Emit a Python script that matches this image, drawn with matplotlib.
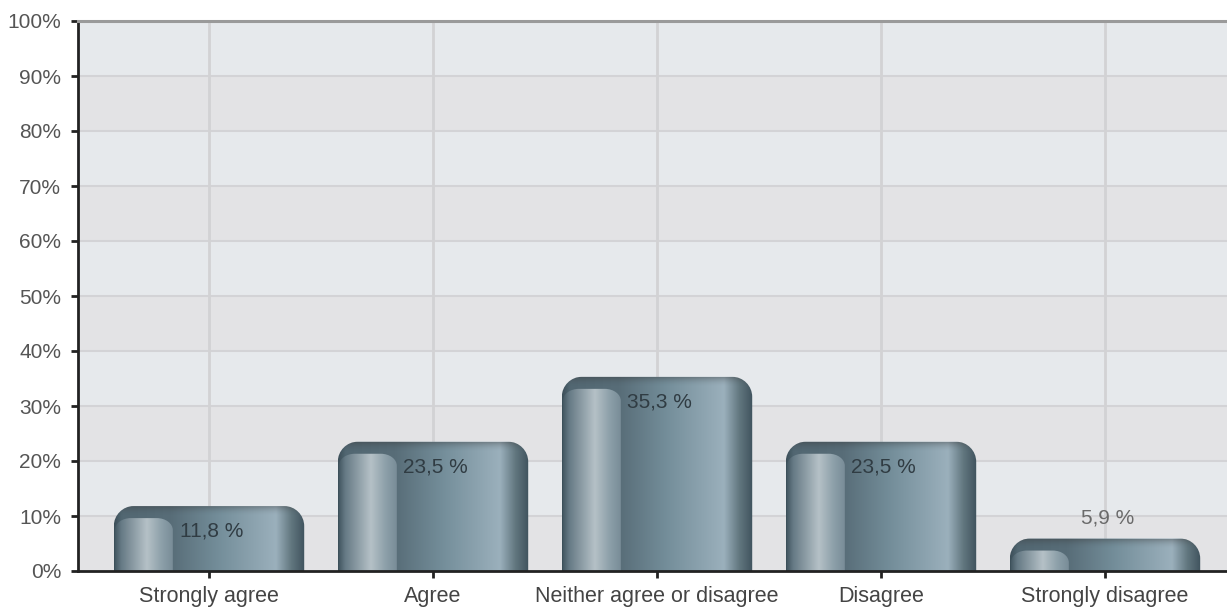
import numpy as np
import matplotlib
matplotlib.use("Agg")
import matplotlib.pyplot as plt
from matplotlib.path import Path
from matplotlib.patches import PathPatch, Rectangle
from matplotlib.colors import LinearSegmentedColormap

# survey answers (share of respondents, %)
categories = ["Strongly agree", "Agree", "Neither agree or disagree",
              "Disagree", "Strongly disagree"]
values = [11.8, 23.5, 35.3, 23.5, 5.9]
yticks = list(range(0, 101, 10))

plt.rcParams['font.family'] = ['Liberation Sans', 'DejaVu Sans']

BAR_W = 0.85
PX_X = 224.0      # pixels per category
PX_Y = 5.5        # pixels per percent

# horizontal shading of the bar body and of the lighter left strip
body_cmap = LinearSegmentedColormap.from_list("body", [
    (0.00, "#3c4f59"), (0.04, "#526772"), (0.30, "#586d78"),
    (0.55, "#748e9a"), (0.85, "#9bb0bc"), (0.93, "#62777f"),
    (1.00, "#40535e")])
strip_cmap = LinearSegmentedColormap.from_list("strip", [
    (0.00, "#3f535d"), (0.12, "#667a85"), (0.55, "#b5c1c7"),
    (0.80, "#8c9fa9"), (1.00, "#778b96")])


def round_top(x0, x1, y0, y1, rx, ry):
    k = 0.5523
    verts = [(x0, y0), (x0, y1 - ry),
             (x0, y1 - ry + k * ry), (x0 + rx - k * rx, y1), (x0 + rx, y1),
             (x1 - rx, y1),
             (x1 - rx + k * rx, y1), (x1, y1 - ry + k * ry), (x1, y1 - ry),
             (x1, y0), (x0, y0)]
    codes = [Path.MOVETO, Path.LINETO,
             Path.CURVE4, Path.CURVE4, Path.CURVE4,
             Path.LINETO,
             Path.CURVE4, Path.CURVE4, Path.CURVE4,
             Path.LINETO, Path.CLOSEPOLY]
    return Path(verts, codes)


fig = plt.figure(figsize=(12.27, 6.08), dpi=100)
ax = fig.add_axes([78 / 1227, 1 - 571 / 608, 1149 / 1227, 550 / 608])
x_lo = -131 / PX_X
x_hi = (1227 - 209) / PX_X
ax.set_xlim(x_lo, x_hi)
ax.set_ylim(0, 100)

# alternating background bands
for i, y in enumerate(yticks[:-1]):
    c = "#e3e3e5" if i % 2 == 0 else "#e6e9ec"
    ax.add_patch(Rectangle((x_lo, y), x_hi - x_lo, 10, facecolor=c,
                           edgecolor="none", zorder=0))

for y in yticks[1:-1]:
    ax.axhline(y, color="#d3d3d6", lw=1.5, zorder=1)
for i in range(len(categories)):
    ax.axvline(i, color="#d2d2d4", lw=2, zorder=1)

grad = np.linspace(0, 1, 256).reshape(1, -1)
rx = 20 / PX_X
ry = 20 / PX_Y
for i, v in enumerate(values):
    x0, x1 = i - BAR_W / 2, i + BAR_W / 2
    body = PathPatch(round_top(x0, x1, 0, v, rx, ry), facecolor="none",
                     edgecolor="none", transform=ax.transData)
    ax.add_patch(body)
    im = ax.imshow(grad, cmap=body_cmap, aspect="auto",
                   extent=(x0, x1, 0, v), zorder=2, interpolation="bicubic")
    im.set_clip_path(body)

    # lighter strip on the left side of the bar
    sx1 = x0 + 0.31 * BAR_W
    stop = v - 12 / PX_Y
    if stop > 0:
        strip = PathPatch(round_top(x0 + 1 / PX_X, sx1, 0, stop, rx * 0.8,
                                    min(ry * 0.6, stop)),
                          facecolor="none", edgecolor="none",
                          transform=ax.transData)
        ax.add_patch(strip)
        im2 = ax.imshow(grad, cmap=strip_cmap, aspect="auto",
                        extent=(x0, sx1, 0, stop), zorder=3,
                        interpolation="bicubic")
        im2.set_clip_path(strip)

    # darker rim along the top edge
    rim = np.zeros((32, 1, 4))
    rim[..., :3] = 0.22
    rim[:, 0, 3] = np.linspace(0.6, 0, 32) ** 2
    top_h = min(10 / PX_Y, v)
    im3 = ax.imshow(rim, aspect="auto", extent=(x0, x1, v - top_h, v),
                    zorder=4, interpolation="bilinear", origin="upper")
    im3.set_clip_path(body)

    label = f"{v:.1f}".replace(".", ",") + " %"
    if v > 8:
        ax.annotate(label, (i, v), xytext=(2, -18), textcoords="offset points",
                    ha="center", va="center", fontsize=15, color="#303c43",
                    zorder=5)
    else:
        ax.annotate(label, (i, v), xytext=(2, 14.5), textcoords="offset points",
                    ha="center", va="center", fontsize=15, color="#6a6a6a",
                    zorder=5)

ax.set_xticks(range(len(categories)))
ax.set_xticklabels(categories)
ax.set_yticks(yticks)
ax.set_yticklabels([f"{t}%" for t in yticks])
ax.tick_params(axis="y", length=5, width=2, color="#222222", pad=7,
               labelsize=15, labelcolor="#555555")
ax.tick_params(axis="x", length=5, width=2, color="#222222", pad=5.5,
               labelsize=15.5, labelcolor="#444444")

ax.spines["left"].set_color("#222222")
ax.spines["left"].set_linewidth(2)
ax.spines["bottom"].set_color("#222222")
ax.spines["bottom"].set_linewidth(2)
ax.spines["bottom"].set_zorder(6)
ax.spines["top"].set_color("#9a9a9a")
ax.spines["top"].set_linewidth(2.2)
ax.spines["right"].set_visible(False)

fig.savefig("out.png", dpi=100, facecolor="white")
